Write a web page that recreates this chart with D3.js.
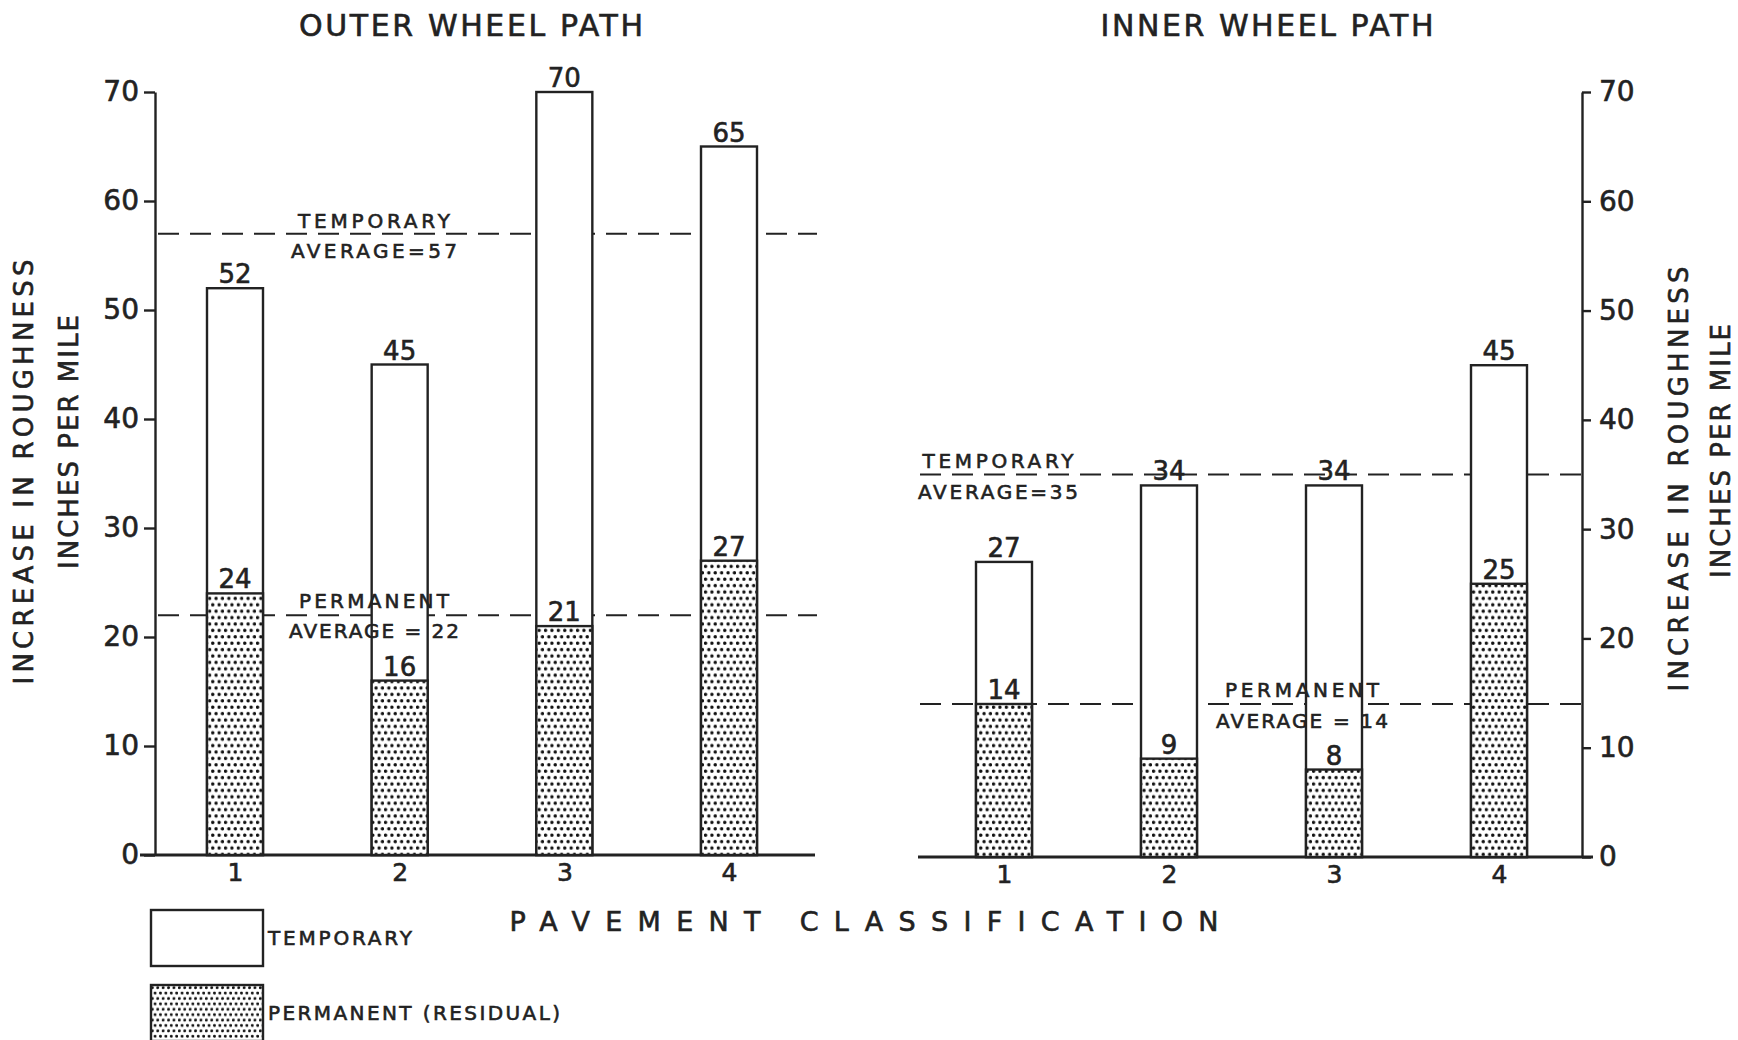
<!DOCTYPE html>
<html>
<head>
<meta charset="utf-8">
<script src="https://d3js.org/d3.v7.min.js"></script>
<style>
  body { margin: 0; background: #fff; }
  svg { display: block; }
  text { font-family: "DejaVu Sans", sans-serif; fill: #222; stroke: #222; stroke-width: 0.6px; }
  .bar { stroke: #222; stroke-width: 2.4px; }
  .avg { stroke: #222; stroke-width: 2px; stroke-dasharray: 21 11; fill: none; }
  .axis path, .axis line { stroke: #222; stroke-width: 2.4px; }
  .base { stroke: #222; stroke-width: 2.8px; }
</style>
</head>
<body>
<script>
// values
var classes = ["1", "2", "3", "4"];
var outerTemporary = [52, 45, 70, 65];
var outerPermanent = [24, 16, 21, 27];
var innerTemporary = [27, 34, 34, 45];
var innerPermanent = [14, 9, 8, 25];
var outerAverages = [57, 22];   // temporary, permanent
var innerAverages = [35, 14];
var yTicks = [0, 10, 20, 30, 40, 50, 60, 70];

var W = 1738, H = 1040, barW = 56;

var svg = d3.select("body").append("svg")
  .attr("width", W)
  .attr("height", H);

var defs = svg.append("defs");
function dotPattern(id, s, r) {
  var p = defs.append("pattern")
    .attr("id", id)
    .attr("patternUnits", "userSpaceOnUse")
    .attr("width", s)
    .attr("height", s * 2);
  p.append("rect").attr("width", s).attr("height", s * 2).attr("fill", "#fff");
  p.append("circle").attr("cx", s * 0.25).attr("cy", s * 0.5).attr("r", r).attr("fill", "#111");
  p.append("circle").attr("cx", s * 0.75).attr("cy", s * 1.5).attr("r", r).attr("fill", "#111");
}
dotPattern("dots", 6.4, 1.7);
dotPattern("dotsSmall", 5.4, 1.45);

var panels = [
  { title: "OUTER WHEEL PATH", titleX: 471, titleLen: 344,
    temp: outerTemporary, perm: outerPermanent, avg: outerAverages,
    x: d3.scalePoint().domain(classes).range([235, 729]),
    y: d3.scaleLinear().domain([0, 70]).range([855, 92]),
    axisX: 155, side: "left", base: [140, 815], dash: [158, 817],
    notes: [{ a: "TEMPORARY", b: "AVERAGE=57", x: 374, y1: 228, y2: 258, la: 152, lb: 166 },
            { a: "PERMANENT", b: "AVERAGE = 22", x: 374, y1: 608, y2: 638, la: 150, lb: 170 }],
    ylab: [24, 472, 69, 442] },
  { title: "INNER WHEEL PATH", titleX: 1267, titleLen: 333,
    temp: innerTemporary, perm: innerPermanent, avg: innerAverages,
    x: d3.scalePoint().domain(classes).range([1004, 1499]),
    y: d3.scaleLinear().domain([0, 70]).range([857, 92]),
    axisX: 1582, side: "right", base: [918, 1593], dash: [920, 1582],
    notes: [{ a: "TEMPORARY", b: "AVERAGE=35", x: 998, y1: 468, y2: 499, la: 151, lb: 160 },
            { a: "PERMANENT", b: "AVERAGE = 14", x: 1302, y1: 697, y2: 728, la: 154, lb: 172 }],
    ylab: [1679, 479, 1721, 451] }
];

panels.forEach(function(p) {
  var g = svg.append("g");

  // title
  g.append("text")
    .attr("x", p.titleX).attr("y", 36)
    .attr("text-anchor", "middle")
    .attr("textLength", p.titleLen).attr("lengthAdjust", "spacing")
    .style("font-size", "30px")
    .text(p.title);

  // average lines (drawn under the bars)
  g.selectAll(".avg")
    .data(p.avg)
    .enter().append("line")
    .attr("class", "avg")
    .attr("x1", p.dash[0]).attr("x2", p.dash[1])
    .attr("y1", d => p.y(d)).attr("y2", d => p.y(d));

  // baseline
  g.append("line")
    .attr("class", "base")
    .attr("x1", p.base[0]).attr("x2", p.base[1])
    .attr("y1", p.y(0)).attr("y2", p.y(0));

  // temporary (total) bars
  g.selectAll(".temp")
    .data(p.temp)
    .enter().append("rect")
    .attr("class", "bar temp")
    .attr("x", (d, i) => p.x(classes[i]) - barW / 2)
    .attr("width", barW)
    .attr("y", d => p.y(d))
    .attr("height", d => p.y(0) - p.y(d))
    .attr("fill", "#fff");

  // permanent bars
  g.selectAll(".perm")
    .data(p.perm)
    .enter().append("rect")
    .attr("class", "bar perm")
    .attr("x", (d, i) => p.x(classes[i]) - barW / 2)
    .attr("width", barW)
    .attr("y", d => p.y(d))
    .attr("height", d => p.y(0) - p.y(d))
    .attr("fill", "url(#dots)");

  // value labels
  var labels = p.temp.map((d, i) => ({ c: classes[i], v: d }))
    .concat(p.perm.map((d, i) => ({ c: classes[i], v: d })));
  g.selectAll(".val")
    .data(labels)
    .enter().append("text")
    .attr("x", d => p.x(d.c))
    .attr("y", d => p.y(d.v) - 5)
    .attr("text-anchor", "middle")
    .style("font-size", "26px")
    .text(d => d.v);

  // average notes
  p.notes.forEach(function(n) {
    g.append("text").attr("x", n.x).attr("y", n.y1)
      .attr("text-anchor", "middle")
      .attr("textLength", n.la).attr("lengthAdjust", "spacing")
      .style("font-size", "20px").text(n.a);
    g.append("text").attr("x", n.x).attr("y", n.y2)
      .attr("text-anchor", "middle")
      .attr("textLength", n.lb).attr("lengthAdjust", "spacing")
      .style("font-size", "20px").text(n.b);
  });

  // y axis
  var yAxis = (p.side === "left" ? d3.axisLeft(p.y) : d3.axisRight(p.y))
    .tickValues(yTicks)
    .tickSize(p.side === "left" ? 11 : 9)
    .tickSizeOuter(0)
    .tickPadding(p.side === "left" ? 5 : 8);
  var ya = g.append("g")
    .attr("class", "axis")
    .attr("transform", "translate(" + p.axisX + ",0)")
    .call(yAxis);
  ya.selectAll("text")
    .style("font-size", "28px")
    .style("font-family", "DejaVu Sans, sans-serif")
    .attr("fill", "#222");

  // x tick labels
  var xa = g.append("g")
    .attr("class", "axis")
    .attr("transform", "translate(0," + p.y(0) + ")")
    .call(d3.axisBottom(p.x).tickSize(0).tickPadding(8));
  xa.select(".domain").remove();
  xa.selectAll("text")
    .style("font-size", "25px")
    .style("font-family", "DejaVu Sans, sans-serif")
    .attr("fill", "#222");

  // y axis titles
  g.append("text")
    .attr("transform", "translate(" + p.ylab[0] + "," + p.ylab[1] + ") rotate(-90)")
    .attr("text-anchor", "middle").attr("dominant-baseline", "central")
    .attr("textLength", 425).attr("lengthAdjust", "spacing")
    .style("font-size", "26px")
    .text("INCREASE IN ROUGHNESS");
  g.append("text")
    .attr("transform", "translate(" + p.ylab[2] + "," + p.ylab[3] + ") rotate(-90)")
    .attr("text-anchor", "middle").attr("dominant-baseline", "central")
    .attr("textLength", 254).attr("lengthAdjust", "spacing")
    .style("font-size", "26px")
    .text("INCHES PER MILE");
});

// x axis title
svg.append("text")
  .attr("x", 864).attr("y", 931)
  .attr("text-anchor", "middle")
  .attr("textLength", 709).attr("lengthAdjust", "spacing")
  .style("font-size", "27px")
  .text("PAVEMENT  CLASSIFICATION");

// legend
var legendItems = ["TEMPORARY", "PERMANENT (RESIDUAL)"];
var legend = svg.selectAll(".legend")
  .data(legendItems)
  .enter().append("g")
  .attr("class", "legend")
  .attr("transform", (d, i) => "translate(151," + (910 + i * 75) + ")");

legend.append("rect")
  .attr("class", "bar")
  .attr("width", 112)
  .attr("height", 56)
  .attr("fill", (d, i) => i === 0 ? "#fff" : "url(#dotsSmall)");

legend.append("text")
  .attr("x", 117)
  .attr("y", 35)
  .attr("textLength", (d, i) => i === 0 ? 144 : 292)
  .attr("lengthAdjust", "spacing")
  .style("font-size", "20px")
  .text(d => d);
</script>
</body>
</html>
